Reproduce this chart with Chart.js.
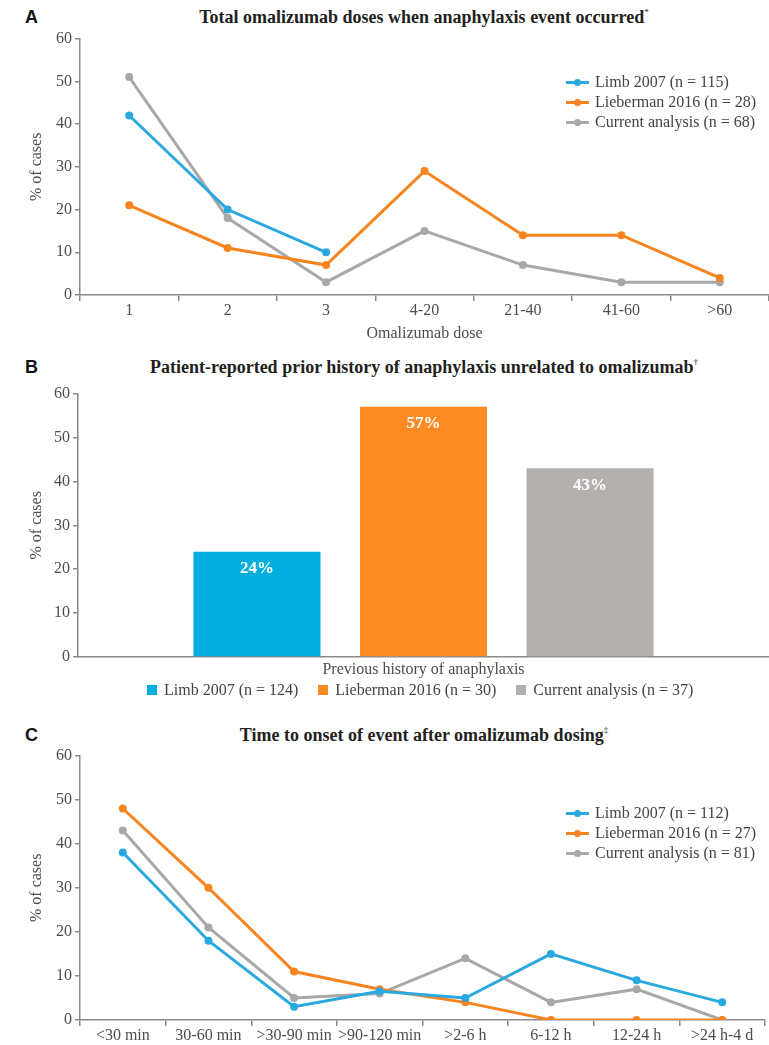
<!DOCTYPE html>
<html>
<head>
<meta charset="utf-8">
<script src="https://cdn.jsdelivr.net/npm/chart.js@4.4.1/dist/chart.umd.min.js"></script>
<style>
html, body { margin:0; padding:0; background:#fff; overflow:hidden; width:769px; height:1045px; }
.box { position:absolute; left:0; }
.lbl { position:absolute; left:25px; font:bold 18px 'Liberation Sans', Arial, sans-serif; color:#111; line-height:22px; }
.ttl { position:absolute; left:79px; width:690px; text-align:center; font:bold 18px 'Liberation Serif', serif; color:#231f20; line-height:22px; white-space:nowrap; }
.ttl sup { font-size:9px; font-weight:normal; vertical-align:8px; line-height:0; }
.leg { position:absolute; font:16px 'Liberation Serif', serif; color:#444; }
.leg .it { height:20px; line-height:20px; white-space:nowrap; display:flex; align-items:center; }
.leg .ln { position:relative; width:23px; height:3px; margin-right:6px; }
.leg .ln b { position:absolute; left:8px; top:-2px; width:7px; height:7px; border-radius:50%; background:inherit; }
.leg .sq { width:10px; height:10px; margin-right:7px; }
.row { display:flex; }
.row .it { margin-right:20px; }
</style>
</head>
<body>
<div class="lbl" style="top:6px">A</div>
<div class="ttl" style="top:6px">Total omalizumab doses when anaphylaxis event occurred<sup>*</sup></div>
<div class="box" style="top:26px;width:773px;height:321px"><canvas id="chartA"></canvas></div>
<div class="leg" id="legA" style="left:566px;top:72px"></div>

<div class="lbl" style="top:356px">B</div>
<div class="ttl" style="top:356px">Patient-reported prior history of anaphylaxis unrelated to omalizumab<sup>†</sup></div>
<div class="box" style="top:381px;width:769px;height:300px"><canvas id="chartB"></canvas></div>
<div class="leg row" id="legB" style="left:147px;top:680px"></div>

<div class="lbl" style="top:724px">C</div>
<div class="ttl" style="top:724px">Time to onset of event after omalizumab dosing<sup>‡</sup></div>
<div class="box" style="top:743px;width:769px;height:302px"><canvas id="chartC"></canvas></div>
<div class="leg" id="legC" style="left:566px;top:803px"></div>

<script>
// panel A - doses
const doseLabels = ['1', '2', '3', '4-20', '21-40', '41-60', '>60'];
const doseLimb = [42, 20, 10, null, null, null, null];
const doseLieberman = [21, 11, 7, 29, 14, 14, 4];
const doseCurrent = [51, 18, 3, 15, 7, 3, 3];
const doseNames = ['Limb 2007 (n = 115)', 'Lieberman 2016 (n = 28)', 'Current analysis (n = 68)'];

// panel B - prior history
const historyLabels = [''];
const historyLimb = [24];
const historyLieberman = [57];
const historyCurrent = [43];
const historyNames = ['Limb 2007 (n = 124)', 'Lieberman 2016 (n = 30)', 'Current analysis (n = 37)'];

// panel C - time to onset
const onsetLabels = ['<30 min', '30-60 min', '>30-90 min', '>90-120 min', '>2-6 h', '6-12 h', '12-24 h', '>24 h-4 d'];
const onsetLimb = [38, 18, 3, 6.5, 5, 15, 9, 4];
const onsetLieberman = [48, 30, 11, 7, 4, 0, 0, 0];
const onsetCurrent = [43, 21, 5, 6, 14, 4, 7, 0];
const onsetNames = ['Limb 2007 (n = 112)', 'Lieberman 2016 (n = 27)', 'Current analysis (n = 81)'];

const lineColors = ['#2aa9e0', '#f7841f', '#a8a8a8'];
const barColors = ['#00aede', '#fd8a22', '#b3b0ae'];

Chart.defaults.font.family = "'Liberation Serif', 'Times New Roman', serif";
Chart.defaults.font.size = 16;
Chart.defaults.color = '#4d4d4d';
Chart.defaults.animation = false;

function yAxis(w) {
    return {
        min: 0, max: 60,
        ticks: { stepSize: 10, padding: 3 },
        grid: { drawOnChartArea: false, tickLength: 5, color: '#8a8a8a', lineWidth: 1.5 },
        border: { color: '#8a8a8a', width: 1.5 },
        title: { display: true, text: '% of cases', padding: { top: 27, bottom: 0 } },
        afterFit: s => { s.width = w; }
    };
}

function lineSet(label, data, c) {
    return { label: label, data: data, borderColor: c, backgroundColor: c, borderWidth: 3,
        pointRadius: 4, pointHoverRadius: 4, pointBackgroundColor: c, pointBorderWidth: 0, tension: 0 };
}

function lineLegend(id, names) {
    document.getElementById(id).innerHTML = names.map((n, i) =>
        `<div class="it"><span class="ln" style="background:${lineColors[i]}"><b></b></span>${n}</div>`).join('');
}

new Chart(document.getElementById('chartA'), {
    type: 'line',
    data: {
        labels: doseLabels,
        datasets: [
            lineSet(doseNames[0], doseLimb, lineColors[0]),
            lineSet(doseNames[1], doseLieberman, lineColors[1]),
            lineSet(doseNames[2], doseCurrent, lineColors[2])
        ]
    },
    options: {
        responsive: true, maintainAspectRatio: false,
        layout: { padding: { top: 10, right: 0, bottom: 0, left: 0 } },
        plugins: { legend: { display: false }, tooltip: { enabled: false } },
        scales: {
            x: {
                offset: true,
                ticks: { padding: 0, autoSkip: false, maxRotation: 0 },
                grid: { offset: true, drawOnChartArea: false, tickLength: 6, color: '#8a8a8a', lineWidth: 1.5 },
                border: { color: '#8a8a8a', width: 1.5 },
                title: { display: true, text: 'Omalizumab dose', padding: { top: 0, bottom: 4 } },
                afterFit: s => { s.height = 52; }
            },
            y: yAxis(80)
        }
    }
});
lineLegend('legA', doseNames);

const barLabels = {
    id: 'barLabels',
    afterDatasetsDraw(chart) {
        const ctx = chart.ctx;
        ctx.save();
        ctx.font = "bold 17px 'Liberation Serif', serif";
        ctx.fillStyle = '#fff';
        ctx.textAlign = 'center';
        ctx.textBaseline = 'middle';
        chart.data.datasets.forEach((ds, i) => {
            chart.getDatasetMeta(i).data.forEach((bar, j) => {
                ctx.fillText(ds.data[j] + '%', bar.x, bar.y + 17);
            });
        });
        ctx.restore();
    }
};

new Chart(document.getElementById('chartB'), {
    type: 'bar',
    data: {
        labels: historyLabels,
        datasets: [
            { label: historyNames[0], data: historyLimb, backgroundColor: barColors[0] },
            { label: historyNames[1], data: historyLieberman, backgroundColor: barColors[1] },
            { label: historyNames[2], data: historyCurrent, backgroundColor: barColors[2] }
        ]
    },
    options: {
        responsive: true, maintainAspectRatio: false,
        layout: { padding: { top: 10, right: 0, bottom: 0, left: 0 } },
        plugins: { legend: { display: false }, tooltip: { enabled: false } },
        datasets: { bar: { barPercentage: 0.763, categoryPercentage: 0.723 } },
        scales: {
            x: {
                ticks: { display: false },
                grid: { drawOnChartArea: false, drawTicks: false },
                border: { color: '#8a8a8a', width: 1.5 },
                title: { display: true, text: 'Previous history of anaphylaxis', padding: { top: 0, bottom: 2 } },
                afterFit: s => { s.height = 24; }
            },
            y: yAxis(78)
        }
    },
    plugins: [barLabels]
});
document.getElementById('legB').innerHTML = historyNames.map((n, i) =>
    `<div class="it"><span class="sq" style="background:${barColors[i]}"></span>${n}</div>`).join('');

new Chart(document.getElementById('chartC'), {
    type: 'line',
    data: {
        labels: onsetLabels,
        datasets: [
            lineSet(onsetNames[0], onsetLimb, lineColors[0]),
            lineSet(onsetNames[1], onsetLieberman, lineColors[1]),
            lineSet(onsetNames[2], onsetCurrent, lineColors[2])
        ]
    },
    options: {
        responsive: true, maintainAspectRatio: false,
        layout: { padding: { top: 10, right: 0, bottom: 0, left: 0 } },
        plugins: { legend: { display: false }, tooltip: { enabled: false } },
        scales: {
            x: {
                offset: true,
                ticks: { padding: 0, autoSkip: false, maxRotation: 0 },
                grid: { offset: true, drawOnChartArea: false, tickLength: 6, color: '#8a8a8a', lineWidth: 1.5 },
                border: { color: '#8a8a8a', width: 1.5 },
                afterFit: s => { s.height = 25; }
            },
            y: yAxis(80)
        }
    }
});
lineLegend('legC', onsetNames);
</script>
</body>
</html>
